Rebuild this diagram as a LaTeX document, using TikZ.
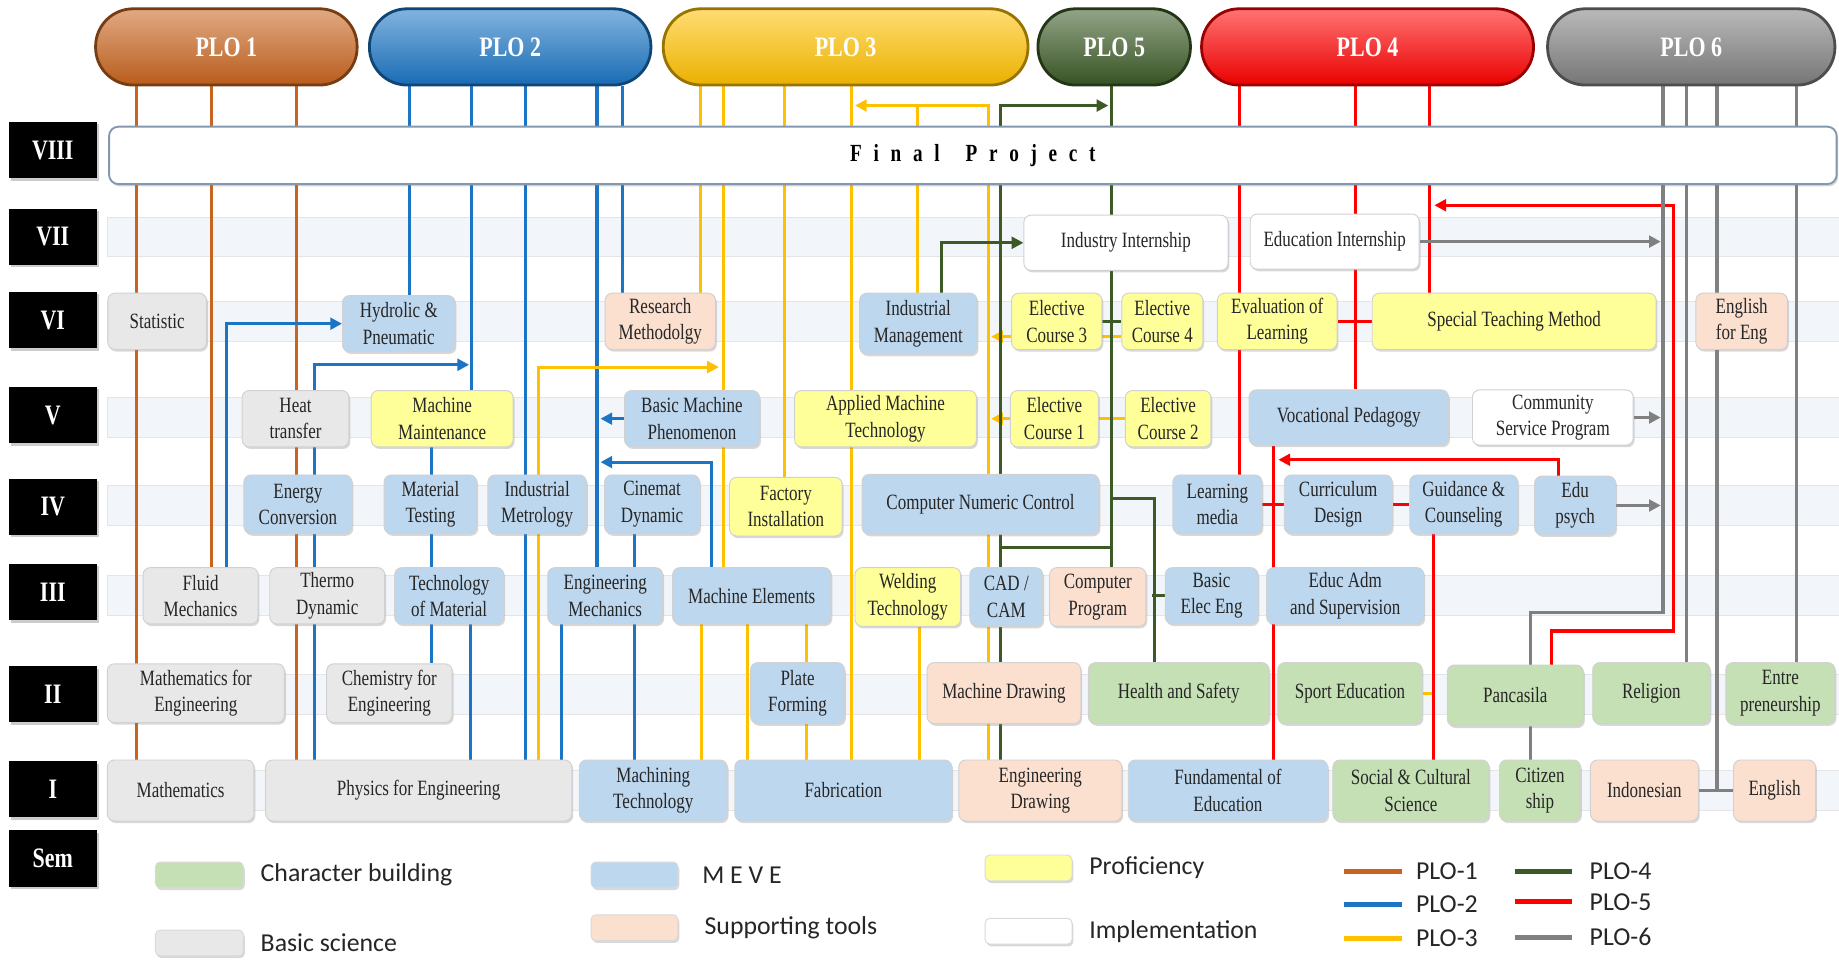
\documentclass[tikz,border=0pt]{standalone}
\usepackage{fontspec}
\setmainfont{Liberation Serif}[FakeStretch=0.78]
\newfontfamily\legfont{Carlito}
\usepackage{xcolor}
\usetikzlibrary{arrows.meta}
\usetikzlibrary{positioning}
\usetikzlibrary{shadows}
\pgfdeclarelayer{bands}
\pgfdeclarelayer{wires}
\pgfsetlayers{bands,wires,main}
\definecolor{ploorange}{HTML}{C8641E}
\definecolor{ploblue}{HTML}{1B75C4}
\definecolor{ployellow}{HTML}{FFC000}
\definecolor{plogreen}{HTML}{3B5A26}
\definecolor{plored}{HTML}{FF0000}
\definecolor{plogray}{HTML}{808080}
\definecolor{meve}{HTML}{BDD7EE}
\definecolor{charc}{HTML}{C5E0B4}
\definecolor{basic}{HTML}{E8E8E8}
\definecolor{suppt}{HTML}{FBE0D0}
\definecolor{profi}{HTML}{FFFF99}
\definecolor{bandc}{HTML}{F2F6FA}
\definecolor{fpline}{HTML}{8497B0}
\newcommand{\crsfont}{\fontsize{9.3}{11.3}\selectfont}
\newcommand{\semfont}{\fontsize{12}{14}\selectfont\bfseries}
\newcommand{\plofont}{\fontsize{12}{14}\selectfont\bfseries}
\newcommand{\fpgap}{\hspace{5pt}}
\tikzset{>={Triangle[length=5pt, width=5pt]}}
\tikzset{sz/.style 2 args={minimum width=#1*0.5pt, minimum height=#2*0.5pt}}
\tikzset{pill/.style={rounded corners=16pt, draw=#1!60!black, line width=1.2pt, top color=#1!55!white, bottom color=#1!92!black, text=white, font=\plofont, inner sep=0pt}}
\tikzstyle{course} = [rounded corners=3pt, draw=black!18, align=center, inner sep=1pt, font=\crsfont, text=black!85, drop shadow={opacity=0.3, shadow xshift=0.6pt, shadow yshift=-0.9pt}]
\tikzstyle{meveb} = [course, fill=meve]
\tikzstyle{basicb} = [course, fill=basic]
\tikzstyle{charb} = [course, fill=charc]
\tikzstyle{suppb} = [course, fill=suppt]
\tikzstyle{profb} = [course, fill=profi]
\tikzstyle{implb} = [course, fill=white]
\tikzstyle{sem} = [fill=black, text=white, font=\semfont, minimum width=37.5pt, minimum height=24pt, drop shadow={opacity=0.4, shadow xshift=0.8pt, shadow yshift=-1pt}]
\tikzstyle{fpbox} = [rounded corners=4pt, draw=fpline, line width=0.8pt, fill=white, font=\fontsize{10.5}{12}\selectfont\bfseries, drop shadow={opacity=0.3, shadow xshift=0.6pt, shadow yshift=-1pt}]
\tikzstyle{swatch} = [rounded corners=2pt, draw=black!15, drop shadow={opacity=0.3, shadow xshift=0.6pt, shadow yshift=-1pt}]
\tikzstyle{legtext} = [inner sep=0pt, font=\legfont\fontsize{11}{13}\selectfont, text=black!85]
\tikzstyle{band} = [fill=bandc, draw=black!10, line width=0.4pt]
\tikzstyle{orangeln} = [line width=1.3pt, draw=ploorange]
\tikzstyle{blueln} = [line width=1.3pt, draw=ploblue]
\tikzstyle{yellowln} = [line width=1.3pt, draw=ployellow]
\tikzstyle{greenln} = [line width=1.3pt, draw=plogreen]
\tikzstyle{redln} = [line width=1.4pt, draw=plored]
\tikzstyle{grayln} = [line width=1.4pt, draw=plogray]
\begin{document}
\begin{tikzpicture}[x=0.5pt, y=-0.5pt]
\useasboundingbox (0, 0) rectangle (1568, 818);

\node [pill=ploorange, sz={223}{65}] (plo1) at (193, 40) {PLO 1};
\node [pill=ploblue, sz={240}{65}] (plo2) at (435, 40) {PLO 2};
\node [pill=ployellow, sz={311}{65}] (plo3) at (721, 40) {PLO 3};
\node [pill=plogreen, sz={130}{65}] (plo5) at (950, 40) {PLO 5};
\node [pill=plored, sz={283}{65}] (plo4) at (1166, 40) {PLO 4};
\node [pill=plogray, sz={245}{65}] (plo6) at (1442, 40) {PLO 6};

\node [sem] (s8) at (45, 128) {VIII};
\node [sem] (s7) at (45, 202) {VII};
\node [sem] (s6) at (45, 273) {VI};
\node [sem] (s5) at (45, 354) {V};
\node [sem] (s4) at (45, 432) {IV};
\node [sem] (s3) at (45, 505) {III};
\node [sem] (s2) at (45, 592) {II};
\node [sem] (s1) at (45, 673) {I};
\node [sem] (s0) at (45, 732) {Sem};

\node [fpbox, sz={1473}{49}] (final) at (829.5, 132.5) {F\fpgap i\fpgap n\fpgap a\fpgap l\hspace{11pt}P\fpgap r\fpgap o\fpgap j\fpgap e\fpgap c\fpgap t};

\node [implb, sz={174}{47}] (indint) at (960, 207) {Industry Internship};
\node [implb, sz={144}{47}] (eduint) at (1138, 206) {Education Internship};

\node [basicb, sz={84}{48}] (stat) at (134, 274) {Statistic};
\node [meveb, sz={96}{48}] (hydro) at (340, 276) {Hydrolic \&\\Pneumatic};
\node [suppb, sz={94}{48}] (resmet) at (563, 274) {Research\\Methodolgy};
\node [meveb, sz={100}{52}] (indman) at (783, 276) {Industrial\\Management};
\node [profb, sz={77}{48}] (ec3) at (901, 274) {Elective\\Course 3};
\node [profb, sz={69}{48}] (ec4) at (991, 274) {Elective\\Course 4};
\node [profb, sz={102}{48}] (evalu) at (1089, 274) {Evaluation of\\Learning};
\node [profb, sz={242}{48}] (stm) at (1291, 274) {Special Teaching Method};
\node [suppb, sz={78}{48}] (engeng) at (1485, 274) {English\\for Eng};

\node [basicb, sz={91}{48}] (heat) at (252, 357) {Heat\\transfer};
\node [profb, sz={121}{48}] (mmaint) at (377, 357) {Machine\\Maintenance};
\node [meveb, sz={115}{48}] (bmp) at (590, 357) {Basic Machine\\Phenomenon};
\node [profb, sz={155}{48}] (amt) at (755, 357) {Applied Machine\\Technology};
\node [profb, sz={75}{48}] (ec1) at (899, 357) {Elective\\Course 1};
\node [profb, sz={73}{48}] (ec2) at (996, 357) {Elective\\Course 2};
\node [meveb, sz={170}{47}] (vocped) at (1150, 356) {Vocational Pedagogy};
\node [implb, sz={137}{47}] (csp) at (1324, 356) {Community\\Service Program};

\node [meveb, sz={92}{50}] (energy) at (254, 430) {Energy\\Conversion};
\node [meveb, sz={79}{50}] (mtest) at (367, 430) {Material\\Testing};
\node [meveb, sz={84}{50}] (imetro) at (458, 430) {Industrial\\Metrology};
\node [meveb, sz={81}{50}] (cinemat) at (556, 430) {Cinemat\\Dynamic};
\node [profb, sz={96}{50}] (factory) at (670, 432) {Factory\\Installation};
\node [meveb, sz={202}{51}] (cnc) at (836, 430) {Computer Numeric Control};
\node [meveb, sz={76}{50}] (lmedia) at (1038, 430) {Learning\\media};
\node [meveb, sz={92}{50}] (curric) at (1141, 430) {Curriculum\\Design};
\node [meveb, sz={92}{50}] (guid) at (1248, 430) {Guidance \&\\Counseling};
\node [meveb, sz={69}{50}] (edupsy) at (1343, 431) {Edu\\psych};

\node [basicb, sz={98}{48}] (fluid) at (171, 508) {Fluid\\Mechanics};
\node [basicb, sz={98}{48}] (thermo) at (279, 508) {Thermo\\Dynamic};
\node [meveb, sz={93}{48}] (techmat) at (383, 508) {Technology\\of Material};
\node [meveb, sz={98}{48}] (engmech) at (516, 508) {Engineering\\Mechanics};
\node [meveb, sz={135}{48}] (melem) at (641, 508) {Machine Elements};
\node [profb, sz={90}{50}] (weld) at (774, 509) {Welding\\Technology};
\node [meveb, sz={62}{50}] (cadcam) at (858, 509) {CAD /\\CAM};
\node [suppb, sz={82}{50}] (comprog) at (936, 509) {Computer\\Program};
\node [meveb, sz={79}{48}] (basicelec) at (1033, 508) {Basic\\Elec Eng};
\node [meveb, sz={134}{48}] (educadm) at (1147, 508) {Educ Adm\\and Supervision};

\node [basicb, sz={151}{50}] (mathfe) at (167, 591) {Mathematics for\\Engineering};
\node [basicb, sz={107}{50}] (chemfe) at (332, 591) {Chemistry for\\Engineering};
\node [meveb, sz={80}{52}] (plate) at (680, 591) {Plate\\Forming};
\node [suppb, sz={131}{52}] (mdraw) at (856, 591) {Machine Drawing};
\node [charb, sz={154}{52}] (health) at (1005, 591) {Health and Safety};
\node [charb, sz={123}{52}] (sport) at (1151, 591) {Sport Education};
\node [charb, sz={116}{52}] (panca) at (1292, 593) {Pancasila};
\node [charb, sz={100}{52}] (relig) at (1408, 591) {Religion};
\node [charb, sz={93}{52}] (entre) at (1518, 591) {Entre\\preneurship};

\node [basicb, sz={125}{52}] (math) at (154, 674) {Mathematics};
\node [basicb, sz={261}{52}] (phys) at (357, 674) {Physics for Engineering};
\node [meveb, sz={126}{52}] (machtech) at (557, 674) {Machining\\Technology};
\node [meveb, sz={185}{52}] (fabr) at (719, 674) {Fabrication};
\node [suppb, sz={139}{52}] (engdraw) at (887, 674) {Engineering\\Drawing};
\node [meveb, sz={170}{52}] (fundedu) at (1047, 674) {Fundamental of\\Education};
\node [charb, sz={133}{52}] (socult) at (1203, 674) {Social \& Cultural\\Science};
\node [charb, sz={69}{52}] (citiz) at (1313, 674) {Citizen\\ship};
\node [suppb, sz={92}{52}] (indon) at (1402, 674) {Indonesian};
\node [suppb, sz={70}{52}] (english) at (1513, 674) {English};

\node [swatch, fill=charc, sz={75}{22}] (kchar) at (170, 746) {};
\node [legtext, right=7pt of kchar] (tchar) {Character building};
\node [swatch, fill=basic, sz={75}{22}] (kbasic) at (170, 804) {};
\node [legtext, right=7pt of kbasic] (tbasic) {Basic science};
\node [swatch, fill=meve, sz={74}{22}] (kmeve) at (541, 746) {};
\node [legtext, right=10pt of kmeve] (tmeve) {M E V E};
\node [swatch, fill=suppt, sz={74}{22}] (ksupp) at (541, 791) {};
\node [legtext, right=11pt of ksupp] (tsupp) {Supporting tools};
\node [swatch, fill=profi, sz={74}{22}] (kprof) at (877, 740) {};
\node [legtext, right=7pt of kprof] (tprof) {Proficiency};
\node [swatch, fill=white, sz={74}{22}] (kimpl) at (877, 794) {};
\node [legtext, right=7pt of kimpl] (timpl) {Implementation};
\node [legtext, anchor=west] (kone) at (1207, 743) {PLO-1};
\node [legtext, anchor=west] (ktwo) at (1207, 771) {PLO-2};
\node [legtext, anchor=west] (kthree) at (1207, 800) {PLO-3};
\node [legtext, anchor=west] (kfour) at (1355, 743) {PLO-4};
\node [legtext, anchor=west] (kfive) at (1355, 769) {PLO-5};
\node [legtext, anchor=west] (ksix) at (1355, 799) {PLO-6};
\draw [orangeln, line width=2.2pt] ([xshift=-6pt]kone.west) -- ++(-49, 0);
\draw [blueln, line width=2.2pt] ([xshift=-6pt]ktwo.west) -- ++(-49, 0);
\draw [yellowln, line width=2.2pt] ([xshift=-6pt]kthree.west) -- ++(-49, 0);
\draw [greenln, line width=2.2pt] ([xshift=-7.5pt]kfour.west) -- ++(-48, 0);
\draw [redln, line width=2.2pt] ([xshift=-7.5pt]kfive.west) -- ++(-48, 0);
\draw [grayln, line width=2.2pt] ([xshift=-7.5pt]ksix.west) -- ++(-48, 0);

\coordinate (tipht) at (400, 311);
\coordinate (tipme) at (512, 394);
\coordinate (tipph) at (613, 313);
\coordinate (tiped) at (729, 90);
\coordinate (tipgr) at (945, 90);
\coordinate (jctcnc) at (948, 425);
\coordinate (jctcad) at (853, 467);
\coordinate (tipep) at (1090, 392);
\coordinate (bendpa) at (1427, 538);
\coordinate (tipst) at (1223, 175);
\coordinate (bendgy) at (1305, 522);

\begin{pgfonlayer}{bands}
\fill [white] (0, 0) rectangle (1568, 818);
\foreach \yy in {202, 274, 356, 431, 508, 592, 674}
  \draw [band] (92, \yy-17) rectangle (1568, \yy+17);
\end{pgfonlayer}

\begin{pgfonlayer}{wires}
\draw [orangeln] (plo1.south -| 116,0) -- (math.north -| 116,0);
\draw [orangeln] (plo1.south -| 180,0) -- (fluid.north -| 180,0);
\draw [orangeln] (plo1.south -| 253,0) -- (phys.north -| 253,0);

\draw [blueln] (plo2.south -| 349,0) -- (hydro.north -| 349,0);
\draw [blueln] (plo2.south -| 402,0) -- (mmaint.north -| 402,0);
\draw [blueln] (plo2.south -| 448,0) -- (phys.north -| 448,0);
\draw [blueln] (plo2.south -| 509,0) -- (engmech.north -| 509,0);
\draw [blueln] (plo2.south -| 531,0) -- (resmet.north -| 531,0);
\draw [blueln, ->] (phys.north -| 268,0) |- (tipht);
\draw [blueln, ->] (fluid.north -| 193,0) |- (hydro.west);
\draw [blueln, ->] (bmp.west) -- (bmp.west -| tipme);
\draw [blueln, ->] (melem.north -| 607,0) |- (tipme);
\draw [blueln] (mmaint.south -| 368,0) -- (chemfe.north -| 368,0);
\draw [blueln] (techmat.south -| 401,0) -- (phys.north -| 401,0);
\draw [blueln] (engmech.south -| 479,0) -- (phys.north -| 479,0);
\draw [blueln] (cinemat.south -| 541,0) -- (machtech.north -| 541,0);

\draw [yellowln] (plo3.south -| 597,0) -- (resmet.north -| 597,0);
\draw [yellowln] (plo3.south -| 617,0) -- (melem.north -| 617,0);
\draw [yellowln] (plo3.south -| 669,0) -- (factory.north -| 669,0);
\draw [yellowln] (plo3.south -| 726,0) -- (fabr.north -| 726,0);
\draw [yellowln, ->] (phys.north -| 459,0) |- (tipph);
\draw [yellowln] (melem.south -| 598,0) -- (machtech.north -| 598,0);
\draw [yellowln] (melem.south -| 637,0) -- (fabr.north -| 637,0);
\draw [yellowln] (melem.south -| 688,0) -- (fabr.north -| 688,0);
\draw [yellowln] (weld.south -| 784,0) -- (fabr.north -| 784,0);
\draw [yellowln, ->] (engdraw.north -| 843,0) |- (tiped);
\draw [yellowln] (indman.north -| 782,0) -- (tiped -| 782,0);
\draw [yellowln, ->] (ec3.west |- 0,287) -- ++(-17, 0);
\draw [yellowln, ->] (ec1.west) -- ++(-16, 0);
\draw [yellowln] (ec3.east |- 0,287) -- (ec4.west |- 0,287);
\draw [yellowln] (ec1.east) -- (ec2.west);
\draw [yellowln] (sport.east) -- ++(8, 0);

\draw [greenln] (plo5.south -| 948,0) -- (comprog.north -| 948,0);
\draw [greenln, ->] (engdraw.north -| 853,0) |- (tipgr);
\draw [greenln, ->] (indman.north -| 803,0) |- (indint.west);
\draw [greenln] (ec3.east) -- (ec4.west);
\draw [greenln] (jctcnc) -| (health.north -| 984,0);
\draw [greenln] (basicelec.west) -- ++(-11, 0);
\draw [greenln] (jctcad) -- (jctcad -| jctcnc);

\draw [redln] (plo4.south -| 1057,0) -- (lmedia.north -| 1057,0);
\draw [redln] (plo4.south -| 1156,0) -- (vocped.north -| 1156,0);
\draw [redln] (plo4.south -| 1219,0) -- (stm.north -| 1219,0);
\draw [redln] (evalu.east) -- (stm.west);
\draw [redln] (vocped.south -| 1086,0) -- (fundedu.north -| 1086,0);
\draw [redln, ->] (edupsy.north -| 1329,0) |- (tipep);
\draw [redln] (lmedia.east) -- (curric.west);
\draw [redln] (curric.east) -- (guid.west);
\draw [redln] (guid.south -| 1222,0) -- (socult.north -| 1222,0);
\draw [redln, ->] (panca.north -| 1323,0) |- (bendpa) |- (tipst);

\draw [grayln] (plo6.south -| 1418,0) |- (bendgy) -- (panca.north -| bendgy);
\draw [grayln] (panca.south -| 1305,0) -- (citiz.north -| 1305,0);
\draw [grayln] (plo6.south -| 1438,0) -- (relig.north -| 1438,0);
\draw [grayln] (plo6.south -| 1464,0) -- (indon.east -| 1464,0);
\draw [grayln] (plo6.south -| 1532,0) -- (entre.north -| 1532,0);
\draw [grayln] (indon.east) -- (english.west);
\draw [grayln, ->] (eduint.east) -- (eduint.east -| 1416,0);
\draw [grayln, ->] (csp.east) -- (csp.east -| 1416,0);
\draw [grayln, ->] (edupsy.east) -- (edupsy.east -| 1416,0);
\end{pgfonlayer}
\end{tikzpicture}
\end{document}
